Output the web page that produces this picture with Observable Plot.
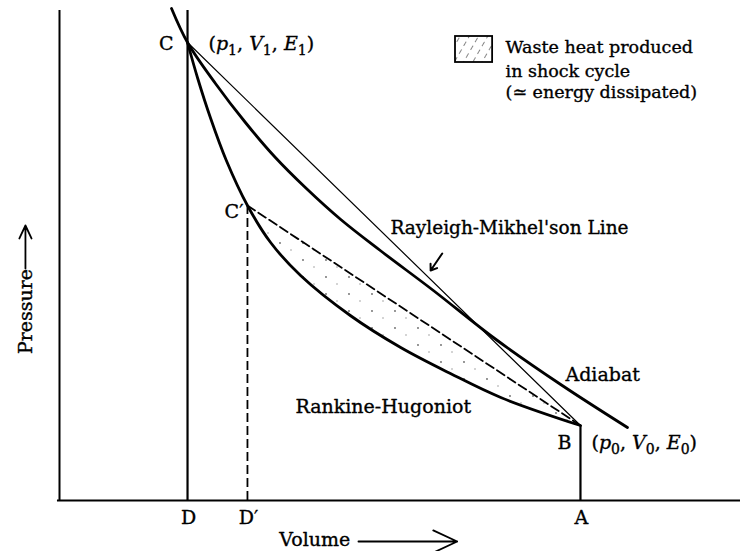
<!DOCTYPE html>
<html><head><meta charset="utf-8">
<script src="https://cdn.jsdelivr.net/npm/d3@7"></script>
<script src="https://cdn.jsdelivr.net/npm/@observablehq/plot@0.6"></script>
<style>
body{margin:0;background:#fff}
svg{display:block}
</style>
</head><body><div id="chart"></div>
<script>
// ---- values (Volume, Pressure in arbitrary units) ----
const adiabatV  = [1.645, 1.88, 2.29, 2.73, 3.17, 3.61, 4.13, 4.71, 5.49, 6.37, 7.36, 8.34];
const adiabatP  = [9.84, 9.16, 8.34, 7.56, 6.86, 6.26, 5.62, 5.00, 4.20, 3.26, 2.32, 1.46];
const hugoniotV = [1.88, 2.03, 2.22, 2.45, 2.76, 3.10, 3.54, 4.27, 5.01, 5.74, 6.48, 7.65];
const hugoniotP = [9.16, 8.44, 7.64, 6.80, 5.90, 5.16, 4.50, 3.70, 3.06, 2.54, 2.06, 1.50];
const pointNames = ["C", "C′", "B"];
const pointV = [1.88, 2.76, 7.65];
const pointP = [9.16, 5.90, 1.50];
const axisLetters = ["D", "D′", "A"];
const stateSub = ["1", "0"];
const curveNames = ["Rayleigh-Mikhel'son Line", "Rankine-Hugoniot", "Adiabat"];
const legendLines = ["Waste heat produced", "in shock cycle", "(≃ energy dissipated)"];
const axisTitles = ["Pressure", "Volume"];

// ---- build tables ----
const adiabat = adiabatV.map((v, i) => ({v, p: adiabatP[i]}));
const hugoniot = hugoniotV.map((v, i) => ({v, p: hugoniotP[i]}));
const pts = pointNames.map((n, i) => ({name: n, v: pointV[i], p: pointP[i]}));
const C = pts[0], Cp = pts[1], B = pts[2];
// waste-heat region: between Hugoniot (C'..B) and the chord C'B
const chord = v => Cp.p + (B.p - Cp.p) * (v - Cp.v) / (B.v - Cp.v);
const waste = hugoniot.filter(d => d.v >= Cp.v).map(d => ({v: d.v, p1: d.p, p2: chord(d.v)}));
const feet = axisLetters.map((t, i) => ({t, v: pts[i].v}));

const serif = "DejaVu Serif";
const ink = {fill: "#000", stroke: "#000", strokeWidth: 0.35, paintOrder: "normal"};

const chart = Plot.plot({
  width: 740,
  height: 551,
  marginLeft: 59,
  marginRight: 0,
  marginTop: 0,
  marginBottom: 51,
  x: {domain: [0, 10], axis: null},
  y: {domain: [0, 10], axis: null},
  style: {fontFamily: serif, background: "#fff", color: "#000"},
  marks: [
    // shaded waste-heat area
    Plot.areaY(waste, {x: "v", y1: "p1", y2: "p2", fill: "url(#stip)", curve: "catmull-rom"}),
    // axes
    Plot.ruleX([0], {y1: 0, y2: 9.8, stroke: "#000", strokeWidth: 2}),
    Plot.ruleY([0], {x1: -0.03, x2: 10, stroke: "#000", strokeWidth: 2}),
    // verticals
    Plot.ruleX([C], {x: "v", y1: 0, y2: 9.8, stroke: "#000", strokeWidth: 2.2}),
    Plot.ruleX([B], {x: "v", y1: 0, y2: "p", stroke: "#000", strokeWidth: 2.2}),
    Plot.ruleX([Cp], {x: "v", y1: 0, y2: "p", stroke: "#000", strokeWidth: 1.8, strokeDasharray: "9,4"}),
    // Rayleigh line C-B (thin) and dashed chord C'-B
    Plot.line([C, B], {x: "v", y: "p", stroke: "#000", strokeWidth: 1.2}),
    Plot.line([Cp, B], {x: "v", y: "p", stroke: "#000", strokeWidth: 1.8, strokeDasharray: "9,4"}),
    // curves
    Plot.line(adiabat, {x: "v", y: "p", stroke: "#000", strokeWidth: 2.8, curve: "catmull-rom"}),
    Plot.line(hugoniot, {x: "v", y: "p", stroke: "#000", strokeWidth: 2.8, curve: "catmull-rom"}),
    // pointer arrow to Rayleigh line
    Plot.arrow([{v1: 5.62, p1: 4.94, v2: 5.45, p2: 4.60}], {x1: "v1", y1: "p1", x2: "v2", y2: "p2", stroke: "#000", strokeWidth: 2, headLength: 7, headAngle: 70}),
    // point labels
    Plot.text([C], {x: "v", y: "p", text: "name", textAnchor: "end", dx: -14, dy: 1, fontSize: 19, ...ink}),
    Plot.text([Cp], {x: "v", y: "p", text: "name", textAnchor: "end", dx: -4, dy: 6, fontSize: 19, ...ink}),
    Plot.text([B], {x: "v", y: "p", text: "name", textAnchor: "end", dx: -9, dy: 17, fontSize: 19, ...ink}),
    Plot.text([{...C, s: stateSub[0]}], {x: "v", y: "p", text: d => `(p${d.s}, V${d.s}, E${d.s})`, textAnchor: "start", dx: 21, dy: 1, fontSize: 19, className: "state", ...ink}),
    Plot.text([{...B, s: stateSub[1]}], {x: "v", y: "p", text: d => `(p${d.s}, V${d.s}, E${d.s})`, textAnchor: "start", dx: 11, dy: 17, fontSize: 19, className: "state", ...ink}),
    // feet labels
    Plot.text(feet, {x: "v", y: 0, text: "t", dy: 17, dx: 1, fontSize: 19, ...ink}),
    // curve names
    Plot.text([curveNames[0]], {x: 4.86, y: 5.44, text: d => d, textAnchor: "start", fontSize: 18.5, ...ink}),
    Plot.text([curveNames[1]], {x: 3.465, y: 1.88, text: d => d, textAnchor: "start", fontSize: 19, ...ink}),
    Plot.text([curveNames[2]], {x: 7.43, y: 2.52, text: d => d, textAnchor: "start", fontSize: 19, ...ink}),
    // legend
    Plot.rect([{x1: 5.815, x2: 6.36, y1: 8.76, y2: 9.28}], {x1: "x1", x2: "x2", y1: "y1", y2: "y2", fill: "url(#hatch)", stroke: "#000", strokeWidth: 1.8}),
    Plot.text(legendLines.map((t, i) => ({t, i})), {x: 6.55, y: d => 9.06 - [0, 0.48, 0.90][d.i], text: "t", textAnchor: "start", fontSize: 17.5, ...ink}),
    // axis titles
    Plot.text([axisTitles[0]], {x: -0.5, y: 3.78, text: d => d, rotate: -90, fontSize: 19, ...ink}),
    Plot.arrow([{x1: -0.5, y1: 4.64, x2: -0.5, y2: 5.5}], {x1: "x1", y1: "y1", x2: "x2", y2: "y2", stroke: "#000", strokeWidth: 1.8, headLength: 14, headAngle: 50}),
    Plot.text([axisTitles[1]], {x: 4.27, y: -0.78, text: d => d, textAnchor: "end", fontSize: 19, ...ink}),
    Plot.arrow([{x1: 4.39, y1: -0.82, x2: 5.84, y2: -0.82}], {x1: "x1", y1: "y1", x2: "x2", y2: "y2", stroke: "#000", strokeWidth: 1.8, headLength: 22, headAngle: 50})
  ]
});

// patterns
const svg = d3.select(chart);
const defs = svg.insert("defs", ":first-child");
const stip = defs.append("pattern").attr("id", "stip").attr("patternUnits", "userSpaceOnUse").attr("width", 23).attr("height", 17);
stip.append("circle").attr("cx", 4).attr("cy", 5).attr("r", 0.9).attr("fill", "#666");
stip.append("circle").attr("cx", 15).attr("cy", 12).attr("r", 0.7).attr("fill", "#888");
const hatch = defs.append("pattern").attr("id", "hatch").attr("patternUnits", "userSpaceOnUse").attr("width", 8).attr("height", 9).attr("patternTransform", "rotate(30)");
hatch.append("line").attr("x1", 0).attr("y1", 1).attr("x2", 0).attr("y2", 6).attr("stroke", "#333").attr("stroke-width", 1.2);

// italic variables with subscripts
svg.selectAll(".state text").each(function() {
  const t = d3.select(this);
  const s = t.text().match(/p(\d)/)[1];
  t.text(null);
  t.append("tspan").text("(");
  ["p", "V", "E"].forEach((v, i) => {
    t.append("tspan").attr("font-style", "italic").text(v);
    t.append("tspan").attr("dy", 5).attr("font-size", 14).text(s);
    t.append("tspan").attr("dy", -5).text(i < 2 ? ", " : ")");
  });
});

document.getElementById("chart").appendChild(chart);
</script>
</body></html>
